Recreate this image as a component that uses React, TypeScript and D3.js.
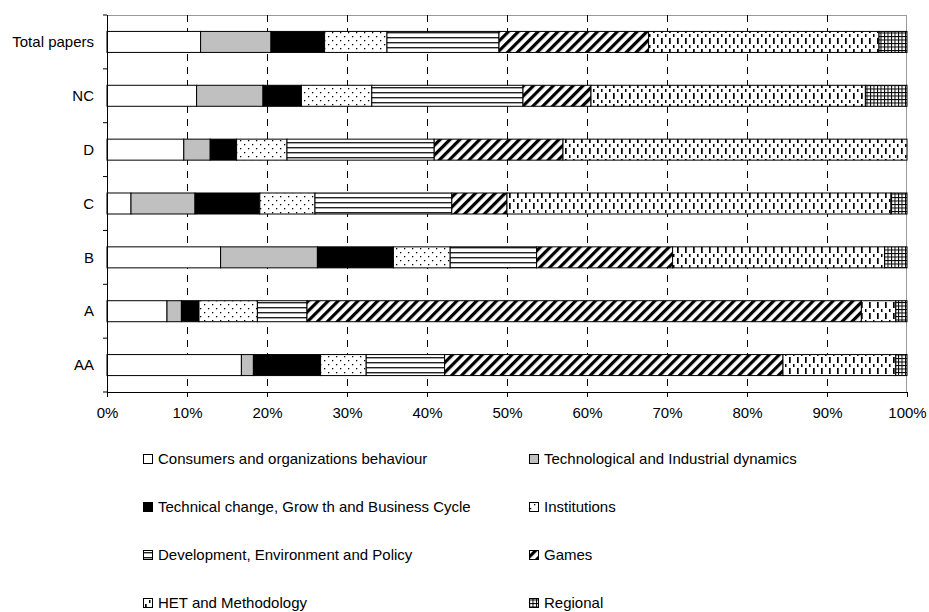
import React from 'react';
import * as d3 from 'd3';

// categories, top to bottom as drawn
const categories = ['Total papers', 'NC', 'D', 'C', 'B', 'A', 'AA'];

// share of papers (%) per research area
const consumers = [11.7, 11.2, 9.6, 3.0, 14.2, 7.5, 16.8];
const techIndustrial = [8.8, 8.3, 3.3, 8.0, 12.1, 1.8, 1.5];
const techChange = [6.7, 4.8, 3.3, 8.1, 9.5, 2.2, 8.4];
const institutions = [7.8, 8.8, 6.3, 6.9, 7.1, 7.3, 5.7];
const development = [14.0, 18.9, 18.4, 17.1, 10.8, 6.2, 9.8];
const games = [18.7, 8.5, 16.1, 6.9, 17.0, 69.3, 42.3];
const het = [28.8, 34.3, 43.0, 48.0, 26.5, 4.3, 14.1];
const regional = [3.5, 5.2, 0, 2.0, 2.8, 1.4, 1.4];

const seriesNames = [
  'Consumers and organizations behaviour',
  'Technological and Industrial dynamics',
  'Technical change, Grow th and Business Cycle',
  'Institutions',
  'Development, Environment and Policy',
  'Games',
  'HET and Methodology',
  'Regional',
];
const seriesValues = [consumers, techIndustrial, techChange, institutions, development, games, het, regional];
const xTicks = [0, 0.1, 0.2, 0.3, 0.4, 0.5, 0.6, 0.7, 0.8, 0.9, 1];

const fills = [
  '#FFFFFF',
  '#C0C0C0',
  '#000000',
  'url(#p-dots)',
  'url(#p-hlines)',
  'url(#p-diag)',
  'url(#p-dash)',
  'url(#p-grid)',
];

const W = 929;
const H = 612;
const margin = { top: 15, right: 22, bottom: 220, left: 107 };
const FONT = '"Liberation Sans", Arial, sans-serif';
const FS = 15;

export default function App() {
  const iw = W - margin.left - margin.right;
  const ih = H - margin.top - margin.bottom;

  const rows = categories.map((c, i) => {
    const r: Record<string, any> = { cat: c };
    seriesNames.forEach((s, k) => (r[s] = seriesValues[k][i]));
    return r;
  });
  const stacked = d3.stack().keys(seriesNames).offset(d3.stackOffsetExpand)(rows as any);

  const x = d3.scaleLinear().domain([0, 1]).range([0, iw]);
  const y = d3.scaleBand().domain(categories).range([0, ih]).paddingInner(0.61).paddingOuter(0.305);
  const bandEdges = d3.range(categories.length + 1).map((i) => i * (ih / categories.length));

  return (
    <svg width={W} height={H} style={{ position: 'absolute', left: 0, top: 0, background: '#fff' }}>
      <defs>
        <pattern id="p-dots" width="8" height="8" patternUnits="userSpaceOnUse">
          <rect width="8" height="8" fill="#fff" />
          <rect x="1" y="1" width="1.3" height="1.3" fill="#000" />
          <rect x="5" y="5" width="1.3" height="1.3" fill="#000" />
        </pattern>
        <pattern id="p-hlines" width="6" height="5" patternUnits="userSpaceOnUse">
          <rect width="6" height="5" fill="#fff" />
          <rect y="2" width="6" height="1.4" fill="#222" />
        </pattern>
        <pattern id="p-diag" width="7" height="7" patternUnits="userSpaceOnUse" patternTransform="rotate(45)">
          <rect width="7" height="7" fill="#fff" />
          <rect width="3.2" height="7" fill="#000" />
        </pattern>
        <pattern id="p-dash" width="8" height="11" patternUnits="userSpaceOnUse">
          <rect width="8" height="11" fill="#fff" />
          <rect x="2" y="1" width="1.7" height="6" fill="#000" />
          <rect x="6" y="8" width="1.5" height="3" fill="#000" />
        </pattern>
        <pattern id="p-grid" width="3.5" height="3.5" patternUnits="userSpaceOnUse">
          <rect width="3.5" height="3.5" fill="#fff" />
          <rect width="3.5" height="1" fill="#000" />
          <rect width="1" height="3.5" fill="#000" />
        </pattern>
      </defs>

      <g transform={`translate(${margin.left},${margin.top})`}>
        {/* frame */}
        <line x1={0} x2={iw} y1={0.5} y2={0.5} stroke="#999" />
        <line x1={iw - 0.5} x2={iw - 0.5} y1={0} y2={ih} stroke="#999" />

        {/* dashed gridlines */}
        {xTicks.slice(1, -1).map((t) => (
          <line key={t} x1={Math.round(x(t)) + 0.5} x2={Math.round(x(t)) + 0.5} y1={0} y2={ih}
            stroke="#000" strokeDasharray="7,6" />
        ))}

        {/* bars */}
        {stacked.map((layer, k) => (
          <g key={layer.key}>
            {layer.map((d, i) => {
              const w = x(d[1]) - x(d[0]);
              if (w <= 0) return null;
              return (
                <rect key={i} x={x(d[0])} y={y(categories[i])!} width={w} height={y.bandwidth()}
                  fill={fills[k]} stroke="#000" strokeWidth={1} />
              );
            })}
          </g>
        ))}

        {/* y axis */}
        <line x1={0.5} x2={0.5} y1={0} y2={ih} stroke="#000" />
        {bandEdges.map((e, i) => (
          <line key={i} x1={-4} x2={0} y1={e} y2={e} stroke="#000" />
        ))}
        {categories.map((c) => (
          <text key={c} x={-13} y={y(c)! + y.bandwidth() / 2} dy="0.35em" textAnchor="end"
            fontFamily={FONT} fontSize={FS} fill="#000">{c}</text>
        ))}

        {/* x axis */}
        <line x1={0} x2={iw} y1={ih + 0.5} y2={ih + 0.5} stroke="#000" />
        {xTicks.map((t) => (
          <g key={t} transform={`translate(${Math.round(x(t)) + 0.5},${ih})`}>
            <line y1={0} y2={5} stroke="#000" />
            <text y={26} textAnchor="middle" fontFamily={FONT} fontSize={FS} fill="#000">
              {d3.format('.0%')(t)}
            </text>
          </g>
        ))}
      </g>

      {/* legend */}
      <g>
        {seriesNames.map((s, k) => {
          const col = k % 2;
          const row = Math.floor(k / 2);
          const lx = col === 0 ? 143 : 529;
          const ly = 459 + row * 48;
          return (
            <g key={s} transform={`translate(${lx},${ly})`}>
              <rect x={0.5} y={-4.5} width={9} height={9} fill={fills[k]} stroke="#000" />
              <text x={15} y={0} dy="0.35em" fontFamily={FONT} fontSize={FS} fill="#000">{s}</text>
            </g>
          );
        })}
      </g>
    </svg>
  );
}
